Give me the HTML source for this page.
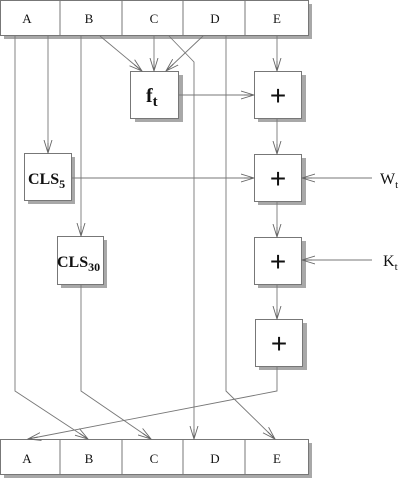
<!DOCTYPE html>
<html><head><style>
html,body{margin:0;padding:0;background:#fff;}
svg{display:block;}
text{font-family:"Liberation Serif",serif;fill:#111;}
</style></head><body>
<svg width="400" height="478" viewBox="0 0 400 478" xmlns="http://www.w3.org/2000/svg">
<defs>
<marker id="a" markerWidth="14" markerHeight="10" refX="13" refY="5" orient="auto" markerUnits="userSpaceOnUse">
<path d="M0,1 L13,5 L0,9 M3,5 L13,5" fill="none" stroke="#666" stroke-width="0.9"/>
</marker>
</defs>
<!-- top bar -->
<rect x="4" y="4" width="308" height="35" fill="#a8a8a8"/>
<rect x="0.5" y="0.5" width="308" height="35" fill="#fff" stroke="#777"/>
<g stroke="#777"><line x1="60" y1="0" x2="60" y2="36"/><line x1="122" y1="0" x2="122" y2="36"/><line x1="183" y1="0" x2="183" y2="36"/><line x1="245" y1="0" x2="245" y2="36"/></g>
<g font-size="13" text-anchor="middle"><text x="27" y="23">A</text><text x="89" y="23">B</text><text x="154" y="23">C</text><text x="215" y="23">D</text><text x="277" y="23">E</text></g>
<!-- bottom bar -->
<rect x="4" y="443" width="308" height="35" fill="#a8a8a8"/>
<rect x="0.5" y="439.5" width="308" height="35" fill="#fff" stroke="#777"/>
<g stroke="#777"><line x1="60" y1="439" x2="60" y2="475"/><line x1="122" y1="439" x2="122" y2="475"/><line x1="183" y1="439" x2="183" y2="475"/><line x1="245" y1="439" x2="245" y2="475"/></g>
<g font-size="13" text-anchor="middle"><text x="27" y="463">A</text><text x="89" y="463">B</text><text x="154" y="463">C</text><text x="215" y="463">D</text><text x="277" y="463">E</text></g>
<!-- boxes -->
<g fill="#a8a8a8">
<rect x="135" y="75" width="48" height="47"/>
<rect x="258" y="75" width="48" height="47"/>
<rect x="258" y="158" width="48" height="47"/>
<rect x="258" y="241" width="48" height="47"/>
<rect x="259" y="323" width="48" height="47"/>
<rect x="28" y="157" width="47" height="47"/>
<rect x="61" y="240" width="46" height="48"/>
</g>
<g fill="#fff" stroke="#777">
<rect x="130.5" y="71.5" width="48" height="47"/>
<rect x="254.5" y="71.5" width="47" height="47"/>
<rect x="254.5" y="154.5" width="47" height="47"/>
<rect x="254.5" y="237.5" width="47" height="47"/>
<rect x="255.5" y="319.5" width="47" height="47"/>
<rect x="24.5" y="153.5" width="47" height="47"/>
<rect x="57.5" y="236.5" width="46" height="48"/>
</g>
<g font-weight="bold">
<text x="146" y="102" font-size="20">f<tspan font-size="15" dy="4">t</tspan></text>
<text x="28" y="184" font-size="16">CLS<tspan font-size="12" dy="4">5</tspan></text>
<text x="57" y="267" font-size="16">CLS<tspan font-size="12" dy="4">30</tspan></text>
</g>
<g font-size="28" text-anchor="middle">
<text x="278" y="105" style="font-family:'Liberation Sans',sans-serif">+</text>
<text x="278" y="188" style="font-family:'Liberation Sans',sans-serif">+</text>
<text x="278" y="271" style="font-family:'Liberation Sans',sans-serif">+</text>
<text x="279" y="353" style="font-family:'Liberation Sans',sans-serif">+</text>
</g>
<text x="380" y="184" font-size="16">W<tspan font-size="11" dy="4">t</tspan></text>
<text x="383" y="266" font-size="16">K<tspan font-size="11" dy="4">t</tspan></text>
<!-- connectors -->
<g stroke="#777" stroke-width="0.9" fill="none">
<polyline points="15,36 15,391 88,439" marker-end="url(#a)"/>
<line x1="48" y1="36" x2="48" y2="153" marker-end="url(#a)"/>
<line x1="81" y1="36" x2="81" y2="236" marker-end="url(#a)"/>
<line x1="100" y1="36" x2="142" y2="71" marker-end="url(#a)"/>
<line x1="154" y1="36" x2="154" y2="71" marker-end="url(#a)"/>
<line x1="203" y1="36" x2="166" y2="71" marker-end="url(#a)"/>
<polyline points="169,36 194,62 194,439" marker-end="url(#a)"/>
<polyline points="226,36 226,391 275,439" marker-end="url(#a)"/>
<line x1="277" y1="36" x2="277" y2="71" marker-end="url(#a)"/>
<line x1="179" y1="95" x2="254" y2="95" marker-end="url(#a)"/>
<line x1="277" y1="119" x2="277" y2="154" marker-end="url(#a)"/>
<line x1="72" y1="178" x2="254" y2="178" marker-end="url(#a)"/>
<line x1="372" y1="178" x2="302" y2="178" marker-end="url(#a)"/>
<line x1="277" y1="202" x2="277" y2="237" marker-end="url(#a)"/>
<line x1="372" y1="260" x2="302" y2="260" marker-end="url(#a)"/>
<line x1="277" y1="285" x2="277" y2="319" marker-end="url(#a)"/>
<polyline points="277,367 277,391 28,439" marker-end="url(#a)"/>
<polyline points="81,285 81,391 151,439" marker-end="url(#a)"/>
</g>
</svg>
</body></html>
